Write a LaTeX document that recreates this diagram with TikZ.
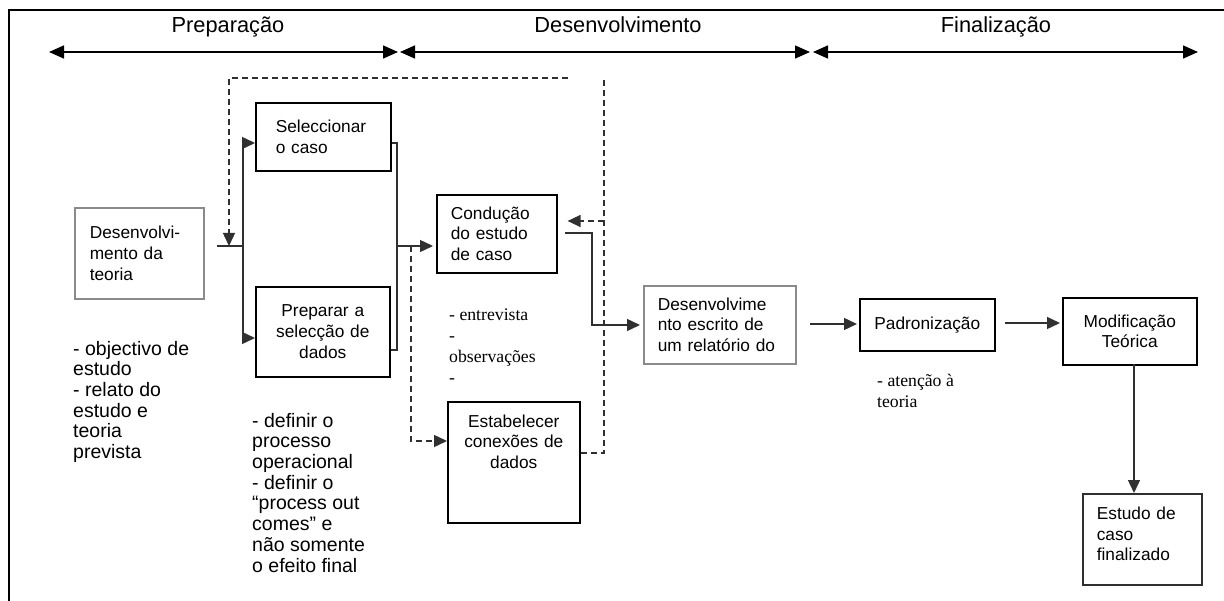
\documentclass[tikz,border=0pt]{standalone}
\usepackage{fontspec}
\setmainfont{Liberation Sans}
\newfontfamily\serifx{Liberation Serif}
\usetikzlibrary{arrows.meta}
\definecolor{boxgray}{HTML}{8A8A8A}
\definecolor{darkline}{HTML}{303030}
\begin{document}
\begin{tikzpicture}[x=1pt,y=-1pt,
  boxfont/.style={font=\fontsize{17.3}{20.7}\selectfont},
  descfont/.style={font=\fontsize{19.5}{20.7}\selectfont},
  serfont/.style={font=\serifx\fontsize{17.7}{21}\selectfont},
  headfont/.style={font=\fontsize{21.8}{26}\selectfont},
  box/.style={draw=black, line width=1.6pt, boxfont, inner ysep=0pt, anchor=north west, rectangle},
  graybox/.style={box, draw=boxgray},
  desc/.style={descfont, align=left, anchor=north west, inner sep=0pt},
  sdesc/.style={serfont, align=left, anchor=north west, inner sep=0pt},
  conn/.style={line width=1.4pt, draw=darkline},
  arr/.style={conn, -{Triangle[length=13pt,width=12pt]}},
  dconn/.style={conn, dash pattern=on 6pt off 4pt},
  darr/.style={dconn, -{Triangle[length=13pt,width=12pt]}},
  phase/.style={line width=1.5pt, {Triangle[length=15pt,width=13pt]}-{Triangle[length=15pt,width=13pt]}}
]
\useasboundingbox (0,0) rectangle (1224,601);
% frame
\draw[line width=2pt] (9,601) -- (9,10) -- (1224,10);

% phase headers
\node[headfont, anchor=base] (hprep) at (228,33) {Preparação};
\node[headfont, anchor=base] (hdes) at (618,33) {Desenvolvimento};
\node[headfont, anchor=base] (hfin) at (996,33) {Finalização};
\coordinate (p0) at (49,52);
\coordinate (p1) at (398,52);
\coordinate (p2) at (400,52);
\coordinate (p3) at (810,52);
\coordinate (p4) at (813,52);
\coordinate (p5) at (1198,52);
\draw[phase] (p0) -- (p1);
\draw[phase] (p2) -- (p3);
\draw[phase] (p4) -- (p5);

% boxes
\node[graybox, minimum width=129pt, minimum height=91pt, inner xsep=15pt, text width=99pt, align=left] (teo) at (74,207) {Desenvolvi-\\mento da\\teoria};
\node[box, minimum width=135pt, minimum height=68pt, inner xsep=20pt, text width=95pt, align=left] (sel) at (255,102) {Seleccionar\\o caso};
\node[box, minimum width=134pt, minimum height=90pt, inner xsep=6pt, text width=122pt, align=center] (prep) at (255,286) {Preparar a\\selecção de\\dados};
\node[box, minimum width=120pt, minimum height=78pt, inner xsep=14pt, text width=92pt, align=left] (cond) at (436,194) {Condução\\do estudo\\de caso};
\node[box, minimum width=132pt, minimum height=121pt, inner xsep=6pt, text width=120pt, align=center] (est) at (447,401) {Estabelecer\\conexões de\\dados\\\mbox{}\\\mbox{}};
\node[graybox, minimum width=152pt, minimum height=78pt, inner xsep=14pt, text width=124pt, align=left] (desc) at (643,285) {Desenvolvime\\nto escrito de\\um relatório do};
\node[box, minimum width=135pt, minimum height=52pt, inner xsep=6pt, text width=123pt, align=center] (pad) at (859,298) {Padronização};
\node[box, minimum width=134pt, minimum height=67pt, inner xsep=6pt, text width=122pt, align=center] (mod) at (1062,297) {Modificação\\Teórica};
\node[box, draw=darkline, minimum width=119pt, minimum height=91pt, inner xsep=14pt, text width=91pt, align=left] (fin) at (1082,493) {Estudo de\\caso\\finalizado\\[-10pt]\mbox{}};

% free texts
\node[desc] (tdesc1) at (73,340.5) {\strut- objectivo de\\estudo\\- relato do\\estudo e\\teoria\\prevista};
\node[desc] (tdesc2) at (252,412.5) {\strut- definir o\\processo\\operacional\\- definir o\\“process out\\comes” e\\não somente\\o efeito final};
\node[sdesc] (tent) at (449,305.5) {\strut- entrevista\\-\\observações\\-};
\node[sdesc] (tat) at (877,371.5) {\strut- atenção à\\teoria};

% connectors, left part
\coordinate (j1s) at (217,246);
\coordinate (j1) at (243,246);
\coordinate (a1) at (243,143);
\coordinate (a2) at (243,338);
\draw[conn] (j1s) -- (j1);
\draw[conn] (a1) -- (a2);
\draw[arr] (a1) -- (a1 -| sel.west);
\draw[arr] (a2) -- (a2 -| prep.west);

% dashed feedback loop
\coordinate (d1) at (229,78);
\coordinate (d2) at (568,78);
\draw[darr] (d2) -- (d1) -- (d1 |- j1);

% right side of selection boxes
\coordinate (b1) at (397,143);
\coordinate (b2) at (397,350);
\coordinate (j2) at (397,246);
\draw[conn] (b1 -| sel.east) -- (b1) -- (b2) -- (b2 -| prep.east);
\draw[arr, shorten >=3pt] (j2) -- (j2 -| cond.west);

% dashed to Estabelecer
\coordinate (d3) at (411,246);
\coordinate (d4) at (411,441);
\draw[darr] (d3) -- (d4) -- (d4 -| est.west);

% dashed from Estabelecer back up
\coordinate (e1) at (604,453);
\coordinate (e2) at (604,78);
\coordinate (e3) at (604,221);
\draw[dconn] (e1 -| est.east) -- (e1) -- (e2);
\draw[darr, shorten >=10pt] (e3) -- (e3 -| cond.east);

% Conducao to Desenvolvimento escrito
\coordinate (c1) at (565,233);
\coordinate (c2) at (592,233);
\coordinate (c3) at (592,325);
\draw[arr, shorten >=3pt] (c1) -- (c2) -- (c3) -- (c3 -| desc.west);

% final chain
\coordinate (f1) at (810,324);
\coordinate (f2) at (1005,323);
\draw[arr, shorten >=2pt] (f1) -- (f1 -| pad.west);
\draw[arr, shorten >=2pt] (f2) -- (f2 -| mod.west);
\coordinate (g1) at (1134,364);
\draw[arr] (g1) -- (g1 |- fin.north);
\end{tikzpicture}
\end{document}
